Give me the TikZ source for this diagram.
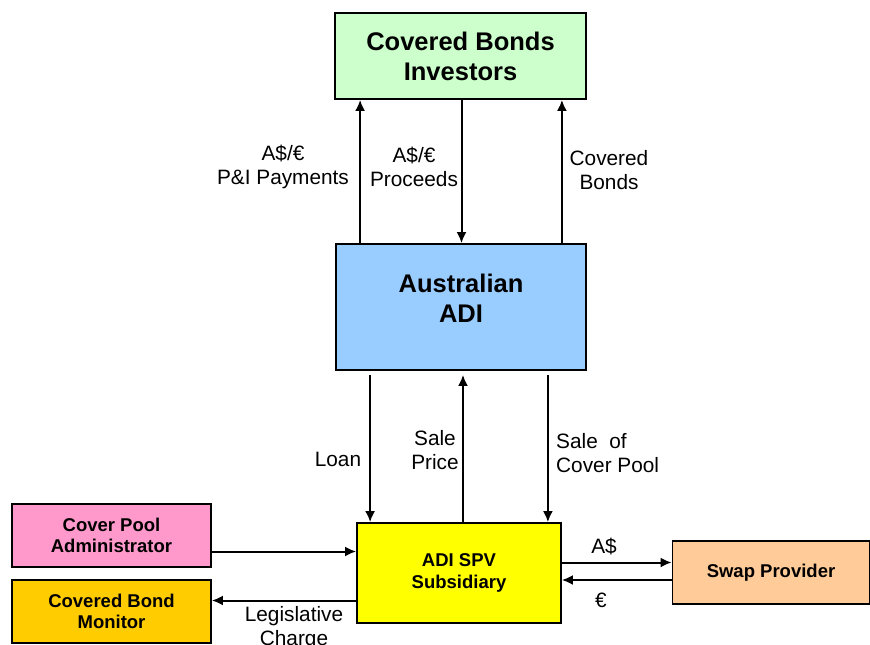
\documentclass[tikz,border=0pt]{standalone}
\usepackage{fontspec}
\setmainfont{Liberation Sans}
\usepackage{tikz}
\usetikzlibrary{arrows.meta}
\definecolor{invgreen}{HTML}{CCFFCC}
\definecolor{adiblue}{HTML}{99CCFF}
\definecolor{spvyellow}{HTML}{FFFF00}
\definecolor{cpapink}{HTML}{FF99CC}
\definecolor{mongold}{HTML}{FFCC00}
\definecolor{swappeach}{HTML}{FFCC99}
\tikzstyle{box}=[shape=rectangle,draw,line width=1.8pt,inner sep=0pt,align=center]
\tikzstyle{bigtxt}=[font=\fontsize{25.5}{30}\selectfont\bfseries]
\tikzstyle{smalltxt}=[font=\fontsize{18.5}{21.5}\selectfont\bfseries]
\tikzstyle{lbl}=[align=center,inner sep=0pt,font=\fontsize{20.8}{23.5}\selectfont]
\tikzstyle{to}=[-{Latex[length=11pt,width=10pt]},line width=2pt]

\begin{document}
\begin{tikzpicture}[x=1pt,y=-1pt]
            \useasboundingbox (0,0) rectangle (870,645);
            \node[box,bigtxt,fill=invgreen,minimum width=251,minimum height=86] (inv) at (460.5,56) {Covered Bonds\\Investors};
            \node[box,fill=adiblue,minimum width=250,minimum height=126] (adi) at (461,307) {};
            \node[bigtxt,align=center] (aditxt) at (461,298) {Australian\\ADI};
            \node[box,smalltxt,fill=spvyellow,minimum width=204,minimum height=100] (spv) at (459,573) {ADI SPV\\Subsidiary};
            \node[box,smalltxt,fill=cpapink,minimum width=199,minimum height=63] (cpa) at (111.5,535.5) {Cover Pool\\Administrator};
            \node[box,smalltxt,fill=mongold,minimum width=199,minimum height=63] (mon) at (111.5,611.5) {Covered Bond\\Monitor};
            \node[box,smalltxt,fill=swappeach,minimum width=197,minimum height=63] (swap) at (771,572.5) {Swap Provider};

            % investors <-> ADI
            \draw[to] ([xshift=25]adi.north west) -- ([xshift=26]inv.south west);
            \draw[to] ([xshift=1]inv.south) -- ([xshift=1]inv.south |- adi.north);
            \draw[to] ([xshift=-25]adi.north east) -- ([xshift=-25]inv.south east);
            \node[lbl] (pi) at (283,167) {A\$/€\\P\&I Payments};
            \node[lbl] (proc) at (414,167) {A\$/€\\Proceeds};
            \node[lbl] (cb) at (609,170) {Covered\\Bonds};

            % ADI <-> SPV
            \draw[to] ([xshift=35,yshift=-4]adi.south west) -- ([xshift=14]spv.north west);
            \draw[to] ([xshift=4]spv.north) -- ([xshift=4,yshift=-4]spv.north |- adi.south);
            \draw[to] ([xshift=-39,yshift=-4]adi.south east) -- ([xshift=-14]spv.north east);
            \node[lbl] (loan) at (338,459) {Loan};
            \node[lbl] (price) at (435,450) {Sale\\Price};
            \node[lbl,align=left,anchor=west] (pool) at (556,453) {Sale~ of\\Cover Pool};

            % side boxes
            \draw[to] ([yshift=-16]cpa.east) -- ([yshift=-16]cpa.east -| spv.west);
            \draw[to] ([yshift=11]mon.east -| spv.west) -- ([yshift=11]mon.east);
            \draw[to] ([yshift=10]swap.west -| spv.east) -- ([yshift=10]swap.west);
            \draw[to] ([yshift=-7.5]swap.west) -- ([yshift=-7.5]swap.west -| spv.east);
            \node[lbl] (aud) at (604,547) {A\$};
            \node[lbl] (eur) at (601,600) {€};
            \node[lbl] (leg) at (294,628) {Legislative\\Charge};
\end{tikzpicture}
\end{document}
